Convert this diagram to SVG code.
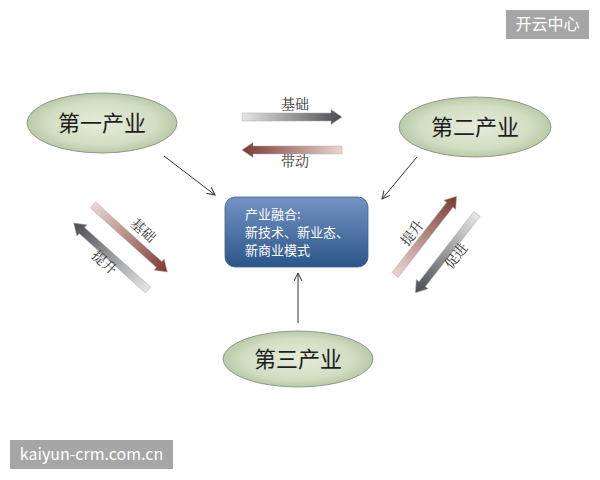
<svg xmlns="http://www.w3.org/2000/svg" width="600" height="480" viewBox="0 0 600 480">
<defs>
<radialGradient id="ell" cx="0.5" cy="0.5" r="0.6">
<stop offset="0" stop-color="#e4ecd9"/>
<stop offset="0.6" stop-color="#d2dec3"/>
<stop offset="1" stop-color="#a9bb96"/>
</radialGradient>
<linearGradient id="box" x1="0" y1="0" x2="0" y2="1">
<stop offset="0" stop-color="#7393c3"/>
<stop offset="1" stop-color="#2c5688"/>
</linearGradient>
<linearGradient id="grey" x1="0" y1="0" x2="1" y2="0">
<stop offset="0" stop-color="#e6e6e6"/>
<stop offset="1" stop-color="#4a4c50"/>
</linearGradient>
<linearGradient id="brown" x1="0" y1="0" x2="1" y2="0">
<stop offset="0" stop-color="#e8d6d3"/>
<stop offset="1" stop-color="#7a3a30"/>
</linearGradient>
<polygon id="blk" points="0,-4 89,-4 89,-7.5 100,0 89,7.5 89,4 0,4"/>
<marker id="arr" markerWidth="10" markerHeight="10" refX="8" refY="4" orient="auto" markerUnits="userSpaceOnUse">
<path d="M0,0 L8,4 L0,8" fill="none" stroke="#333" stroke-width="1"/>
</marker>
</defs>
<style>
.ell{fill:url(#ell);stroke:#8e9c86;stroke-width:1}
.etxt{font-family:"Noto Sans CJK SC",sans-serif;font-size:22px;fill:#1e1e1e;text-anchor:middle}
.lbl{font-family:"Noto Serif CJK SC","Noto Sans CJK SC",serif;font-size:14px;fill:#333;text-anchor:middle}
.btxt{font-family:"Noto Sans CJK SC",sans-serif;font-size:13px;fill:#ffffff}
.con{stroke:#333;stroke-width:1;fill:none}
.bg{fill:url(#grey);stroke:#aaa;stroke-width:0.5}
.bb{fill:url(#brown);stroke:#bbaaa8;stroke-width:0.5}
.wm{fill:#a6a6a6}
.wtxt{font-family:"Noto Sans CJK SC",sans-serif;fill:#ffffff}
</style>
<rect width="600" height="480" fill="#ffffff"/>
<g id="connectors">
<line class="con" x1="164" y1="156" x2="215" y2="195" marker-end="url(#arr)"/>
<line class="con" x1="417" y1="157" x2="382" y2="199" marker-end="url(#arr)"/>
<line class="con" x1="298" y1="323" x2="298" y2="273" marker-end="url(#arr)"/>
</g>
<g id="node-primary">
<ellipse class="ell" cx="102" cy="123" rx="75" ry="30"/>
<text class="etxt" x="102" y="131">第一产业</text>
</g>
<g id="node-secondary">
<ellipse class="ell" cx="475" cy="127" rx="76" ry="30"/>
<text class="etxt" x="475" y="135">第二产业</text>
</g>
<g id="node-tertiary">
<ellipse class="ell" cx="298" cy="359" rx="75" ry="28"/>
<text class="etxt" x="298" y="367">第三产业</text>
</g>
<g id="node-fusion">
<rect x="225" y="197" width="143" height="70" rx="10" fill="url(#box)" stroke="#3c5f8e" stroke-width="0.8"/>
<text class="btxt" x="245" y="219">产业融合:</text>
<text class="btxt" x="245" y="237">新技术、新业态、</text>
<text class="btxt" x="245" y="255">新商业模式</text>
</g>
<g id="block-arrows">
<use href="#blk" class="bg" transform="translate(242,117)"/>
<text class="lbl" x="295" y="109">基础</text>
<use href="#blk" class="bb" transform="translate(342,150) rotate(180)"/>
<text class="lbl" x="295" y="166">带动</text>
<use href="#blk" class="bb" transform="translate(93,205) rotate(42)"/>
<text class="lbl" transform="translate(140,234) rotate(42)">基础</text>
<use href="#blk" class="bg" transform="translate(148,290) rotate(222)"/>
<text class="lbl" transform="translate(101,266) rotate(42)">提升</text>
<use href="#blk" class="bb" transform="translate(395,275) rotate(-52)"/>
<text class="lbl" transform="translate(416,236) rotate(-52)">提升</text>
<use href="#blk" class="bg" transform="translate(477,214) rotate(128)"/>
<text class="lbl" transform="translate(460,259) rotate(-52)">促进</text>
</g>
<g id="watermarks">
<rect class="wm" x="506" y="10" width="83" height="29"/>
<text class="wtxt" x="547.5" y="30" font-size="16" text-anchor="middle">开云中心</text>
<rect class="wm" x="10" y="440" width="163" height="29"/>
<text class="wtxt" x="91.5" y="460" font-size="16" text-anchor="middle">kaiyun-crm.com.cn</text>
</g>
</svg>
